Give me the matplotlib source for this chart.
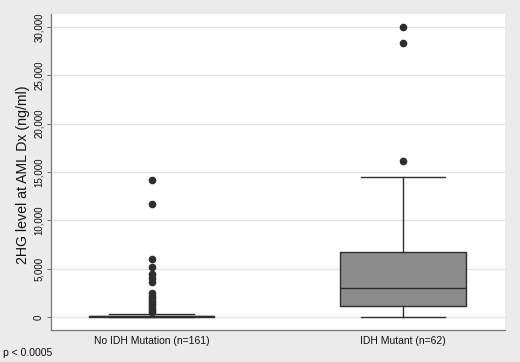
import numpy as np
import matplotlib
matplotlib.use("Agg")
import matplotlib.pyplot as plt

plt.rcParams['font.family'] = ['Liberation Sans', 'DejaVu Sans']

# box statistics (ng/ml)
groups = ["No IDH Mutation (n=161)", "IDH Mutant (n=62)"]
q1 = [10, 1140]
med = [60, 2970]
q3 = [130, 6690]
whislo = [0, 0]
whishi = [310, 14450]
outliers_no_idh = [14170, 11650, 6000, 5150, 4400, 4050, 3650, 2450, 2200,
                   1950, 1700, 1450, 1200, 950, 700, 500]
outliers_idh = [16130, 28370, 30030]
yticks = [0, 5000, 10000, 15000, 20000, 25000, 30000]

BG = "#ebebeb"
EDGE = "#2e2e2e"


def make_stats():
    fliers = [outliers_no_idh, outliers_idh]
    stats = []
    for i in range(len(groups)):
        stats.append(dict(label=groups[i], q1=q1[i], med=med[i], q3=q3[i],
                          whislo=whislo[i], whishi=whishi[i], fliers=fliers[i]))
    return stats


def main():
    fig = plt.figure(figsize=(5.2, 3.62), dpi=100, facecolor=BG)
    ax = fig.add_axes([0.098, 0.0884, 0.873, 0.873])
    ax.set_facecolor("white")

    ax.bxp(make_stats(), positions=[1, 2], widths=0.5, capwidths=0.335,
           patch_artist=True,
           boxprops=dict(facecolor="#8c8c8c", edgecolor=EDGE, linewidth=1.0),
           medianprops=dict(color=EDGE, linewidth=1.0),
           whiskerprops=dict(color=EDGE, linewidth=1.0),
           capprops=dict(color=EDGE, linewidth=1.0),
           flierprops=dict(marker="o", markersize=4.5, markerfacecolor=EDGE,
                           markeredgecolor=EDGE, linestyle="none"))

    ax.set_xlim(0.6, 2.406)
    ax.set_ylim(-1350, 31350)
    ax.set_yticks(yticks)
    ax.set_yticklabels(["{:,}".format(v) for v in yticks], rotation=90, va="center")
    ax.set_xticks([1, 2])
    ax.set_xticklabels(groups)
    ax.tick_params(axis="x", length=0, pad=4, labelsize=7.5, colors="#111111")
    ax.tick_params(axis="y", length=3, width=0.8, pad=2, labelsize=7,
                   color="#777777", labelcolor="#111111")

    ax.grid(axis="y", color="#e3e3e3", linewidth=0.9)
    ax.set_axisbelow(True)
    for side in ["top", "right"]:
        ax.spines[side].set_visible(False)
    for side in ["left", "bottom"]:
        ax.spines[side].set_color("#777777")
        ax.spines[side].set_linewidth(0.9)

    ax.set_ylabel("2HG level at AML Dx (ng/ml)", fontsize=10.2, color="#111111")
    ax.yaxis.set_label_coords(-0.046, 0.49)

    fig.text(0.006, 0.025, "p < 0.0005", fontsize=7.5, va="center", color="#111111")

    fig.savefig("out.png", dpi=100, facecolor=BG)


if __name__ == "__main__":
    main()
